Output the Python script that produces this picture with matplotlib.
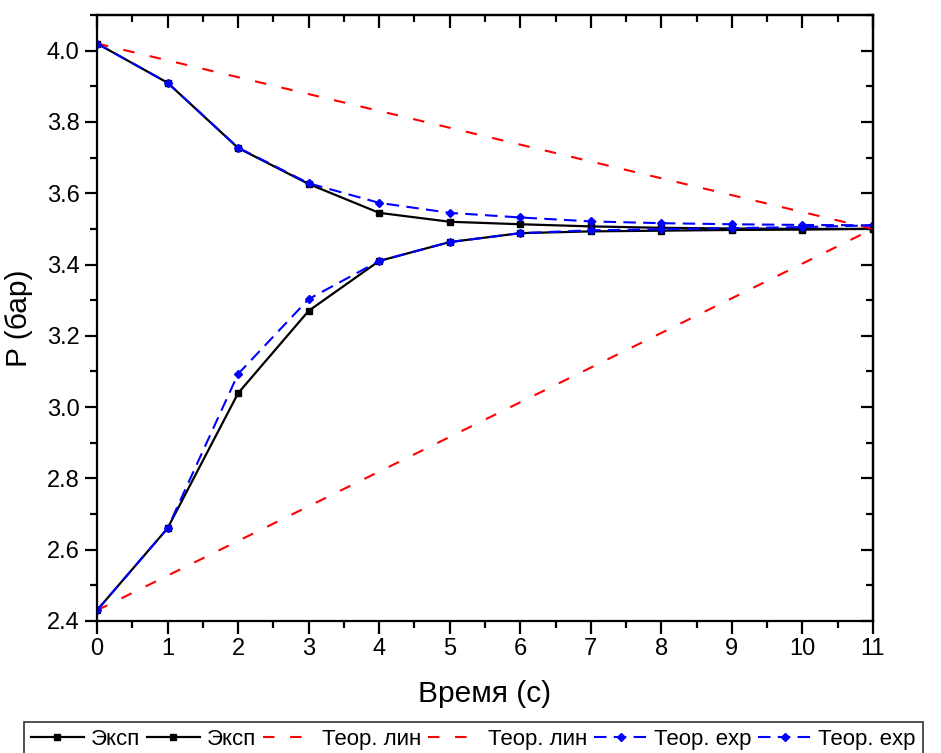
import numpy as np
import matplotlib.pyplot as plt
from matplotlib.ticker import MultipleLocator

plt.rcParams['font.family'] = ['Liberation Sans', 'DejaVu Sans']

t = np.arange(0, 12)

# эксперимент: разгрузка (сверху) и нагрузка (снизу)
p_exp_down = [4.02, 3.91, 3.727, 3.626, 3.545, 3.52, 3.513, 3.507, 3.503, 3.501, 3.500, 3.500]
p_exp_up = [2.43, 2.66, 3.039, 3.27, 3.41, 3.463, 3.488, 3.493, 3.495, 3.497, 3.498, 3.500]

# линейная теория: две прямые к 3.5 бар
p_lin_down = [4.02, 3.50]
p_lin_up = [2.43, 3.50]
t_lin = [0, 11]

# экспоненциальная теория
p_exp_th_down = [4.02, 3.91, 3.728, 3.628, 3.573, 3.545, 3.532, 3.521, 3.516, 3.513, 3.511, 3.510]
p_exp_th_up = [2.43, 2.66, 3.093, 3.303, 3.41, 3.463, 3.488, 3.496, 3.499, 3.502, 3.505, 3.510]

fig = plt.figure(figsize=(9.41, 7.53), dpi=100)
ax = fig.add_axes([97/941, 1-621/753, (873-97)/941, (621-15)/753])

black = dict(color='black', lw=1.6, marker='s', ms=4.5)
red = dict(color='red', lw=1.5, dashes=(5.5, 7.5))
blue = dict(color='blue', lw=1.5, dashes=(6, 3.5), marker='D', ms=4.5)

h1, = ax.plot(t, p_exp_down, label='Эксп', **black)
h2, = ax.plot(t, p_exp_up, label='Эксп', **black)
h3, = ax.plot(t_lin, p_lin_down, label='Теор. лин', **red)
h4, = ax.plot(t_lin, p_lin_up, label='Теор. лин', **red)
h5, = ax.plot(t, p_exp_th_down, label='Теор. exp', **blue)
h6, = ax.plot(t, p_exp_th_up, label='Теор. exp', **blue)

ax.set_xlim(0, 11)
ax.set_ylim(2.4, 4.1)
ax.xaxis.set_major_locator(MultipleLocator(1))
ax.xaxis.set_minor_locator(MultipleLocator(0.5))
ax.yaxis.set_major_locator(MultipleLocator(0.2))
ax.yaxis.set_minor_locator(MultipleLocator(0.1))

lw_ax = 1.6
for s in ax.spines.values():
    s.set_linewidth(lw_ax)
ax.tick_params(which='both', direction='out', width=lw_ax, labelsize=17,
               top=False, right=False)
ax.tick_params(which='major', length=9)
ax.tick_params(which='minor', length=5)

# верхняя и правая оси с тиками внутрь
top = ax.secondary_xaxis('top')
top.xaxis.set_major_locator(MultipleLocator(1))
top.xaxis.set_minor_locator(MultipleLocator(0.5))
right = ax.secondary_yaxis('right')
right.yaxis.set_major_locator(MultipleLocator(0.2))
right.yaxis.set_minor_locator(MultipleLocator(0.1))
for sec, side in ((top, 'top'), (right, 'right')):
    sec.tick_params(which='both', direction='in', width=lw_ax,
                    labeltop=False, labelright=False)
    sec.tick_params(which='major', length=9)
    sec.tick_params(which='minor', length=5)
    sec.spines[side].set_linewidth(lw_ax)

ax.set_xlabel('Время (с)', fontsize=21.5, labelpad=14)
ax.set_ylabel('P (бар)', fontsize=21.5, labelpad=10)

leg = fig.legend(handles=[h1, h2, h3, h4, h5, h6], loc='upper left',
                 bbox_to_anchor=(24/941, 1-722/753), ncol=6, fontsize=16,
                 frameon=True, fancybox=False, edgecolor='black',
                 handlelength=2.4, handletextpad=0.3, columnspacing=0.3,
                 borderaxespad=0, borderpad=0.3)
leg.get_frame().set_linewidth(1.2)

fig.savefig('out.png', dpi=100)
